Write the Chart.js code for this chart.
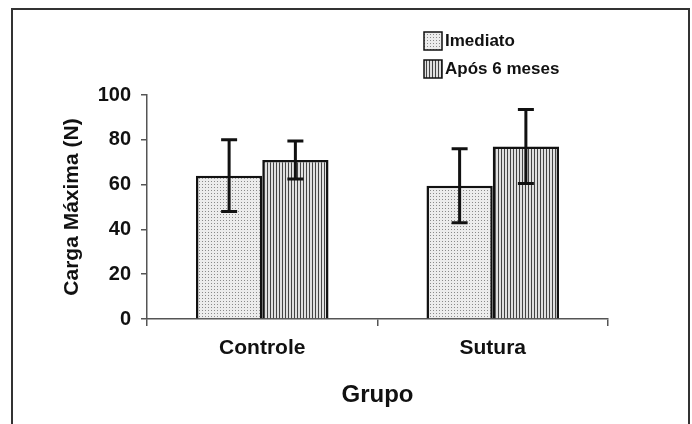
<!DOCTYPE html>
<html>
<head>
<meta charset="utf-8">
<script src="https://cdn.jsdelivr.net/npm/chart.js@4/dist/chart.umd.min.js"></script>
<style>
  html, body { margin: 0; padding: 0; background: #fff; }
  #wrap { width: 692px; height: 424px; }
</style>
</head>
<body>
<div id="wrap"><canvas id="chart" width="692" height="424"></canvas></div>
<script>
// dados
const grupos = ['Controle', 'Sutura'];
const imediato = [64, 59.5];
const imediatoErro = [16, 16.5];
const apos6 = [71, 77];
const apos6Erro = [8.5, 16.5];
const yTicks = [0, 20, 40, 60, 80, 100];

const FONT = '"Liberation Sans", Arial, sans-serif';

/**
 * Padrões de preenchimento (pontilhado / listras verticais)
 */
function makeDots() {
    const c = document.createElement('canvas');
    c.width = 3; c.height = 3;
    const x = c.getContext('2d');
    x.fillStyle = '#ececec';
    x.fillRect(0, 0, 3, 3);
    x.fillStyle = '#8a8a8a';
    x.fillRect(1, 1, 1, 1);
    return x.createPattern(c, 'repeat');
}

function makeStripes() {
    const c = document.createElement('canvas');
    c.width = 3; c.height = 1;
    const x = c.getContext('2d');
    x.fillStyle = '#e0e0e0';
    x.fillRect(0, 0, 3, 1);
    x.fillStyle = '#444';
    x.fillRect(0, 0, 1, 1);
    return x.createPattern(c, 'repeat');
}

const dots = makeDots();
const stripes = makeStripes();

const errorBars = {
    id: 'errorBars',
    afterDatasetsDraw(chart) {
        const ctx = chart.ctx;
        const y = chart.scales.y;
        ctx.save();
        ctx.strokeStyle = '#111';
        ctx.lineWidth = 3;
        chart.data.datasets.forEach((ds, i) => {
            chart.getDatasetMeta(i).data.forEach((bar, j) => {
                const v = ds.data[j], e = ds.err[j];
                const top = y.getPixelForValue(v + e);
                const bot = y.getPixelForValue(v - e);
                ctx.beginPath();
                ctx.moveTo(bar.x, top); ctx.lineTo(bar.x, bot);
                ctx.moveTo(bar.x - 8, top); ctx.lineTo(bar.x + 8, top);
                ctx.moveTo(bar.x - 8, bot); ctx.lineTo(bar.x + 8, bot);
                ctx.stroke();
            });
        });
        ctx.restore();
    }
};

const frameAndLegend = {
    id: 'frameAndLegend',
    beforeDraw(chart) {
        const ctx = chart.ctx;
        ctx.save();
        ctx.fillStyle = '#fff';
        ctx.fillRect(0, 0, chart.width, chart.height);
        ctx.strokeStyle = '#333';
        ctx.lineWidth = 2;
        ctx.strokeRect(12, 9, 677, 430);
        ctx.restore();
    },
    afterDraw(chart) {
        const ctx = chart.ctx;
        ctx.save();
        ctx.font = 'bold 17px ' + FONT;
        ctx.textBaseline = 'middle';
        chart.data.datasets.forEach((ds, i) => {
            const bx = 424, by = 32 + i * 28;
            ctx.fillStyle = ds.backgroundColor;
            ctx.fillRect(bx, by, 18, 18);
            ctx.strokeStyle = '#111';
            ctx.lineWidth = 1.5;
            ctx.strokeRect(bx, by, 18, 18);
            ctx.fillStyle = '#111';
            ctx.fillText(ds.label, bx + 21, by + 9);
        });
        ctx.restore();
    }
};

new Chart(document.getElementById('chart'), {
    type: 'bar',
    data: {
        labels: grupos,
        datasets: [
            { label: 'Imediato', data: imediato, err: imediatoErro, backgroundColor: dots },
            { label: 'Após 6 meses', data: apos6, err: apos6Erro, backgroundColor: stripes }
        ]
    },
    options: {
        responsive: false,
        animation: false,
        events: [],
        layout: { padding: { left: 60, top: 95, right: 84, bottom: 14 } },
        datasets: {
            bar: {
                borderColor: '#111',
                borderWidth: 2.5,
                categoryPercentage: 0.575,
                barPercentage: 1
            }
        },
        plugins: { legend: { display: false }, tooltip: { enabled: false } },
        scales: {
            x: {
                grid: {
                    offset: true,
                    drawOnChartArea: false,
                    tickLength: 7,
                    tickColor: '#555',
                    lineWidth: 1.5
                },
                border: { color: '#555', width: 1.5 },
                ticks: { color: '#111', font: { family: FONT, size: 21, weight: 'bold' }, padding: 10 },
                title: { display: true, text: 'Grupo', color: '#111', padding: 0,
                         font: { family: FONT, size: 24, weight: 'bold' } },
                afterFit(scale) { scale.height = 91; }
            },
            y: {
                min: 0,
                max: 100,
                afterBuildTicks(scale) { scale.ticks = yTicks.map(v => ({ value: v })); },
                grid: { drawOnChartArea: false, tickLength: 6, tickColor: '#555', lineWidth: 1.5 },
                border: { color: '#555', width: 1.5 },
                ticks: { color: '#111', font: { family: FONT, size: 20, weight: 'bold' }, padding: 10 },
                title: { display: true, text: 'Carga Máxima (N)', color: '#111', padding: 0,
                         font: { family: FONT, size: 21, weight: 'bold' } },
                afterFit(scale) { scale.width = 87; }
            }
        }
    },
    plugins: [frameAndLegend, errorBars]
});
</script>
</body>
</html>
